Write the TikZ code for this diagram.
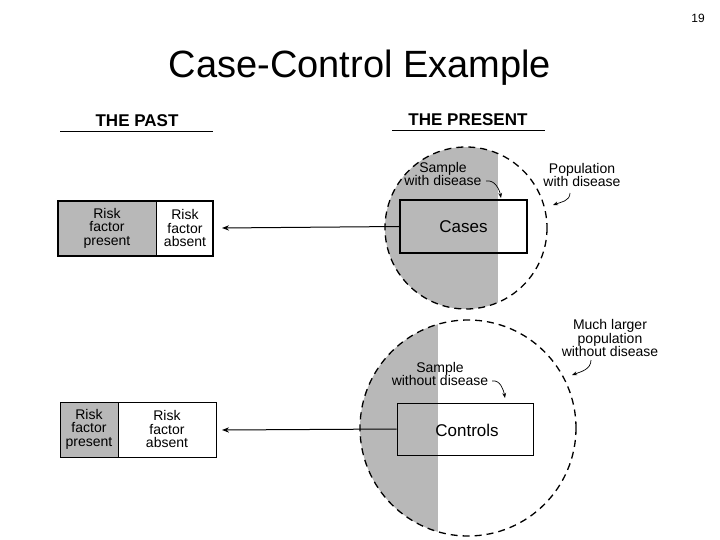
\documentclass[tikz,border=0pt]{standalone}
\usepackage{fontspec}
\setmainfont{Liberation Sans}
\usetikzlibrary{arrows.meta}
\begin{document}
\begin{tikzpicture}[x=1pt,y=-1pt,
  lab/.style={align=center,font=\fontsize{14}{13.5}\selectfont,inner sep=0},
  shade/.style={fill=black!28},
  popline/.style={dash pattern=on 7pt off 5pt,line width=1.3pt},
  arr/.style={-{Stealth[length=7pt]},line width=1pt},
  carr/.style={-{Stealth[length=5pt]},line width=0.7pt},
  head/.style={font=\bfseries\fontsize{17}{17}\selectfont,inner sep=0}]
\useasboundingbox (0,0) rectangle (720,540);
\node[inner sep=0,font=\fontsize{12}{12}\selectfont] (pg) at (698,18) {19};
\node[inner sep=0,font=\fontsize{38}{38}\selectfont] (title) at (360,68) {Case-Control Example};
\node[head] (past) at (137,121) {THE PAST};
\draw[line width=0.8pt] (60,131) -- (213,131);
\node[head] (present) at (468,120) {THE PRESENT};
\draw[line width=0.8pt] (392,130) -- (545,130);
% top circle
\begin{scope}
\clip (466,228) circle (81);
\fill[shade] (380,140) rectangle (498,320);
\end{scope}
\draw[popline] (466,228) circle (81);
\node[draw,line width=2.5pt,minimum width=127,minimum height=53,lab,font=\fontsize{17}{17}\selectfont] (cases) at (463.5,226.5) {Cases};
% bottom circle
\begin{scope}
\clip (468,428) circle (108);
\fill[shade] (350,310) rectangle (438,545);
\end{scope}
\draw[popline] (468,428) circle (108);
\node[draw,fill=white,line width=1pt,minimum width=136,minimum height=52,lab] (ctrlbox) at (465,429) {};
\fill[shade] (397,403) rectangle (438,455);
\draw[line width=1pt] (397,403) rectangle (533,455);
\node[lab,font=\fontsize{17}{17}\selectfont] (controls) at (467,430) {Controls};
% left boxes
\fill[shade] (58,201) rectangle (156,256);
\draw[line width=2.2pt] (58,201) rectangle (213,256);
\draw[line width=1pt] (156,201) -- (156,256);
\node[lab] (rfp1) at (107,228) {Risk\\factor\\present};
\node[lab] (rfa1) at (185,228) {Risk\\factor\\absent};
\fill[shade] (60,402) rectangle (118,457);
\draw[line width=1pt] (60,402) rectangle (216,457);
\draw[line width=1pt] (118,402) -- (118,457);
\node[lab] (rfp2) at (89,429) {Risk\\factor\\present};
\node[lab] (rfa2) at (167,429) {Risk\\factor\\absent};
\coordinate (t1) at (222,228);
\coordinate (t2) at (222,430);
\draw[arr] (cases.west) -- (t1);
\draw[arr] (ctrlbox.west) -- (t2);
% annotations
\node[lab] (swd) at (443,174) {Sample\\with disease};
\draw[carr] (486,181) to[out=10,in=100] (501,198);
\node[lab] (pwd) at (582,175) {Population\\with disease};
\draw[carr] (570,193) to[out=270,in=20] (553,205);
\node[lab] (mlp) at (610,338) {Much larger\\population\\without disease};
\draw[carr] (591,360) to[out=270,in=20] (572,375);
\node[lab] (swod) at (440,374) {Sample\\without disease};
\draw[carr] (492,381) to[out=10,in=100] (505,398);
\end{tikzpicture}
\end{document}
